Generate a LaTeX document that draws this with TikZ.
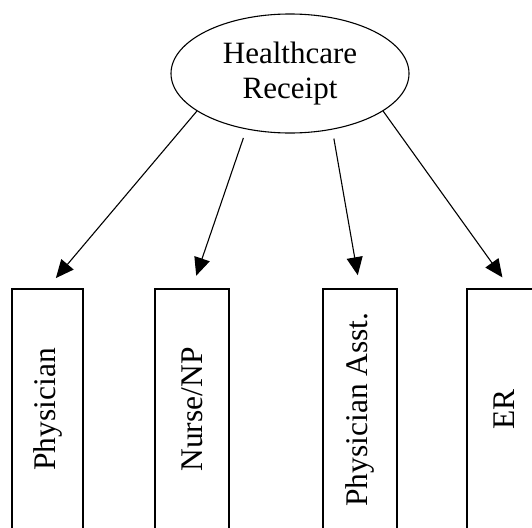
\documentclass[tikz,border=0pt]{standalone}
\usepackage{fontspec}
\setmainfont{Liberation Serif}
\usetikzlibrary{shapes.geometric,arrows.meta}
\begin{document}
\begin{tikzpicture}[x=1pt,y=-1pt,
  rootnode/.style={ellipse,draw,line width=1.1pt,minimum width=238pt,minimum height=119pt,
    inner sep=0pt,align=center,font=\fontsize{31}{35}\selectfont},
  catbox/.style={rectangle,draw,line width=2pt,minimum height=241pt,inner sep=0pt,
    font=\fontsize{31.5}{35}\selectfont},
  link/.style={line width=1.1pt,-{Triangle[length=18pt,width=16pt]},shorten >=13pt}]
\path[use as bounding box] (0,0) rectangle (532,527);

% root of the tree
\node[rootnode] (hc) at (290,73.5) {Healthcare\\Receipt};

% provider categories, labels set vertically
\node[catbox,minimum width=71pt] (phys) at (47.5,409.5) {\rotatebox{90}{Physician}};
\node[catbox,minimum width=74pt] (nurse) at (192,409.5) {\rotatebox{90}{Nurse/NP}};
\node[catbox,minimum width=74pt] (pa) at (360,409.5) {\rotatebox{90}{Physician Asst.}};
\node[catbox,minimum width=74pt] (er) at (504,409.5) {\rotatebox{90}{ER}};

% branches
\draw[link] (hc.202) -- (phys.north);
\draw[link,shorten <=9pt] (hc.232.5) -- (nurse.north);
\draw[link,shorten <=9pt] (hc.307) -- (pa.north);
\draw[link] (hc.338) -- ([xshift=6pt]er.north);
\end{tikzpicture}
\end{document}
